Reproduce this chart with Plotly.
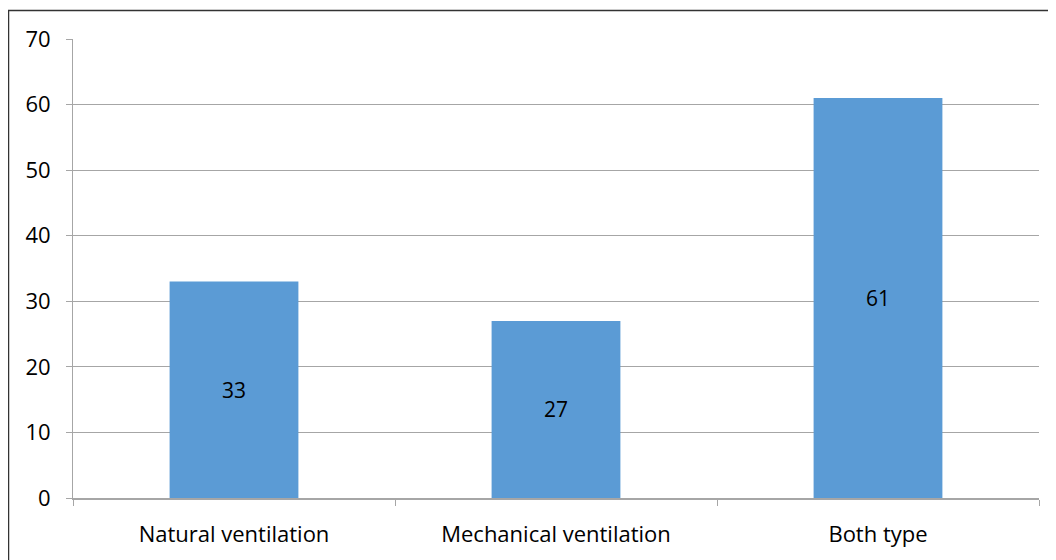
import plotly.graph_objects as go

categories = ["Natural ventilation", "Mechanical ventilation", "Both type"]
values = [33, 27, 61]
y_ticks = [0, 10, 20, 30, 40, 50, 60, 70]

# page has an 8px body margin; figure is placed at (8, 8)
OFF = 8
W, H = 1056 - OFF, 560 - OFF
L, R, T, B = 73 - OFF, 17, 39 - OFF, 60
pw, ph = W - L - R, H - T - B

def px_x(x):
    return (x - OFF - L) / pw

def px_y(y):
    return 1 - (y - OFF - T) / ph

FONT = "Open Sans"

fig = go.Figure()
fig.add_trace(go.Bar(
    x=categories, y=values, width=0.4,
    marker=dict(color="#5B9BD5", line=dict(width=0)),
    text=[str(v) for v in values], textposition="inside",
    insidetextanchor="middle",
    textfont=dict(color="black", size=21, family=FONT),
))

fig.update_layout(
    width=W, height=H,
    margin=dict(l=L, r=R, t=T, b=B),
    plot_bgcolor="white", paper_bgcolor="white",
    font=dict(family=FONT, size=21, color="black"),
    showlegend=False,
    bargap=0.6,
)
fig.update_yaxes(
    range=[0, 70], tickvals=y_ticks, showgrid=True, gridcolor="#A6A6A6", gridwidth=1,
    ticks="outside", ticklen=6, tickcolor="#A6A6A6",
    showline=True, linecolor="#A6A6A6", linewidth=1, zeroline=False,
    ticklabelstandoff=11, tickfont=dict(size=22),
)
fig.update_xaxes(
    showgrid=False, ticks="outside", tickson="boundaries", ticklen=6, tickcolor="#A6A6A6",
    showline=True, linecolor="#A6A6A6", linewidth=1.5, ticklabelstandoff=16,
    tickfont=dict(size=22),
)
fig.add_shape(type="rect", xref="paper", yref="paper",
              x0=px_x(8.5), x1=px_x(1080), y0=px_y(600), y1=px_y(10.5),
              line=dict(color="#333333", width=1.5), fillcolor="rgba(0,0,0,0)", layer="above")

fig.write_html("out.html")
